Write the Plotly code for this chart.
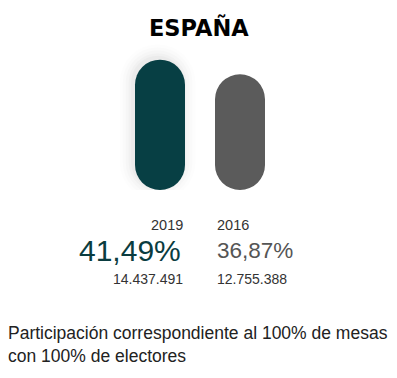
import plotly.graph_objects as go

years = ["2019", "2016"]
participation = [41.49, 36.87]
voters = [14437491, 12755388]
bar_colors = ["#073f44", "#5b5b5b"]
pct_colors = ["#0a3c40", "#555555"]
title_text = "ESPAÑA"
footnote = "Participación correspondiente al 100% de mesas<br>con 100% de electores"

# page body has an 8px margin; the figure is sized and laid out to compensate
OFF = 8
W, H = 397 - OFF, 378 - OFF
PX_PER_UNIT_Y = 3.14
x_pos = [0, 1]

def px_x(p):
    return (p - OFF) / W

def px_y(p):
    return 1 - (p - OFF) / H

fig = go.Figure()
# soft shadow behind the 2019 bar
for grow, op in [(26, 0.008), (20, 0.011), (14, 0.014), (8, 0.018), (3, 0.022)]:
    fig.add_trace(go.Bar(
        x=[x_pos[0] - 0.03], y=[participation[0] + grow / PX_PER_UNIT_Y], base=[-grow / 2 / PX_PER_UNIT_Y + 0.8],
        width=0.625 + grow / 80, marker=dict(color=f"rgba(0,0,0,{op})", cornerradius="50%", line=dict(width=0)),
        hoverinfo="skip", showlegend=False,
    ))
for i in range(len(years)):
    fig.add_trace(go.Bar(
        x=[x_pos[i]], y=[participation[i]], base=[0],
        width=0.625, marker=dict(color=bar_colors[i], cornerradius="50%", line=dict(width=0)),
        hoverinfo="skip", showlegend=False,
    ))

def fmt_pct(v):
    return f"{v:.2f}".replace(".", ",") + "%"

def fmt_int(v):
    return f"{v:,}".replace(",", ".")

ann = []
ann.append(dict(text=f"<b>{title_text}</b>", x=px_x(198.5), y=px_y(27), xref="paper", yref="paper",
                showarrow=False, font=dict(family="DejaVu Sans", size=22.5, color="#000"),
                xanchor="center", yanchor="middle"))
anchors = [("right", 185), ("left", 215)]
for i in range(len(years)):
    xa, px = anchors[i]
    ann.append(dict(text=years[i], x=px_x(px), y=px_y(225), xref="paper", yref="paper", showarrow=False,
                    xanchor=xa, yanchor="middle", font=dict(family="Liberation Sans", size=14.5, color="#333")))
    ann.append(dict(text=fmt_pct(participation[i]), x=px_x(px - 2 if i == 0 else px), y=px_y(251),
                    xref="paper", yref="paper", showarrow=False, xanchor=xa, yanchor="middle",
                    font=dict(family="Liberation Sans", size=30 if i == 0 else 22.5, color=pct_colors[i])))
    ann.append(dict(text=fmt_int(voters[i]), x=px_x(px), y=px_y(279), xref="paper", yref="paper",
                    showarrow=False, xanchor=xa, yanchor="middle",
                    font=dict(family="Liberation Sans", size=14, color="#333")))
ann.append(dict(text=footnote, x=px_x(6), y=px_y(344), xref="paper", yref="paper", showarrow=False,
                xanchor="left", yanchor="middle", align="left",
                font=dict(family="Liberation Sans", size=17.5, color="#222")))

fig.update_layout(
    width=W, height=H, margin=dict(l=0, r=0, t=0, b=0),
    paper_bgcolor="white", plot_bgcolor="white", barmode="overlay",
    xaxis=dict(range=[-(160 - OFF) / 80, -(160 - OFF) / 80 + W / 80], visible=False, fixedrange=True),
    yaxis=dict(range=[0, (190 - OFF) / PX_PER_UNIT_Y], domain=[1 - (190 - OFF) / H, 1],
               visible=False, fixedrange=True),
    annotations=ann, showlegend=False,
)
fig.write_html("out.html", config={"displayModeBar": False})
